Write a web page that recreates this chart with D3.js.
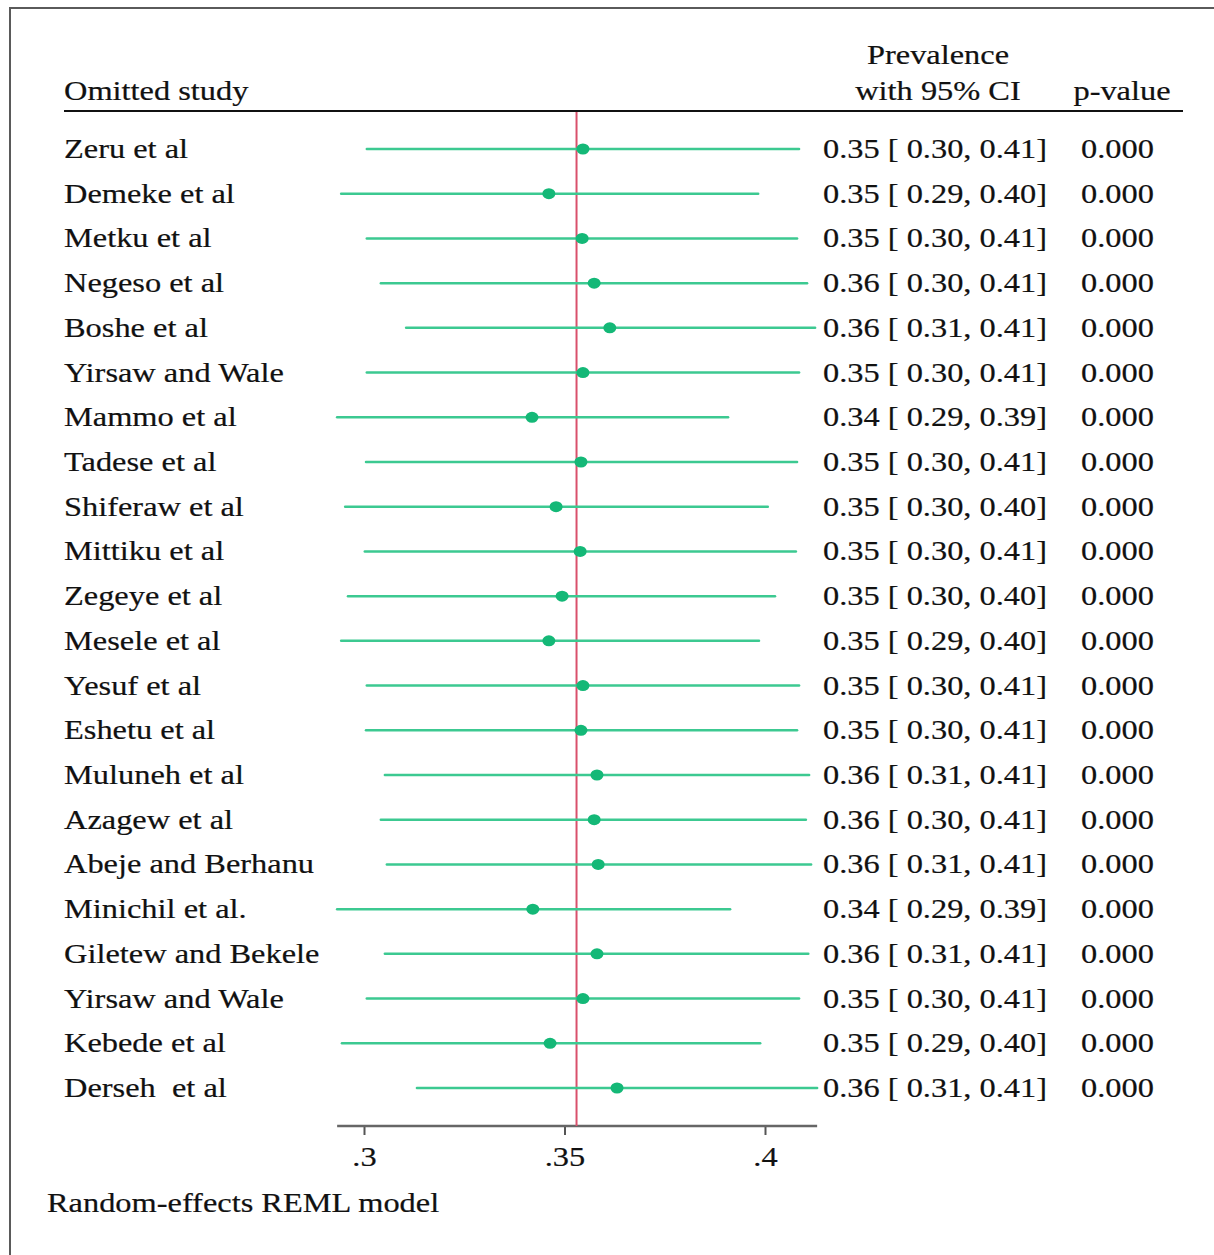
<!DOCTYPE html>
<html>
<head>
<meta charset="utf-8">
<script src="https://cdn.jsdelivr.net/npm/d3@7"></script>
<style>
  body { margin: 0; background: #fff; }
  svg { display: block; }
  text { white-space: pre; }
</style>
</head>
<body>
<svg id="forest"></svg>
<script>
const studies = ["Zeru et al", "Demeke et al", "Metku et al", "Negeso et al", "Boshe et al",
    "Yirsaw and Wale", "Mammo et al", "Tadese et al", "Shiferaw et al", "Mittiku et al",
    "Zegeye et al", "Mesele et al", "Yesuf et al", "Eshetu et al", "Muluneh et al",
    "Azagew et al", "Abeje and Berhanu", "Minichil et al.", "Giletew and Bekele",
    "Yirsaw and Wale", "Kebede et al", "Derseh  et al"]
// point estimate and CI ends as drawn
const estimates = [0.3546, 0.3461, 0.3544, 0.3574, 0.3613, 0.3546, 0.3419, 0.3541, 0.3479, 0.3539,
    0.3494, 0.3461, 0.3546, 0.3541, 0.3581, 0.3574, 0.3584, 0.3421, 0.3581, 0.3546, 0.3464, 0.3631]
const lows = [0.3007, 0.2943, 0.3007, 0.3042, 0.3105, 0.3007, 0.2933, 0.3005, 0.2953, 0.3002,
    0.2960, 0.2943, 0.3007, 0.3005, 0.3052, 0.3042, 0.3057, 0.2933, 0.3052, 0.3007, 0.2945, 0.3132]
const highs = [0.4085, 0.3983, 0.4080, 0.4105, 0.4125, 0.4085, 0.3908, 0.4080, 0.4007, 0.4077,
    0.4025, 0.3985, 0.4085, 0.4080, 0.4110, 0.4102, 0.4115, 0.3913, 0.4108, 0.4085, 0.3988, 0.4130]
// labels printed in the table
const ciLabels = ["0.35 [ 0.30, 0.41]", "0.35 [ 0.29, 0.40]", "0.35 [ 0.30, 0.41]", "0.36 [ 0.30, 0.41]",
    "0.36 [ 0.31, 0.41]", "0.35 [ 0.30, 0.41]", "0.34 [ 0.29, 0.39]", "0.35 [ 0.30, 0.41]",
    "0.35 [ 0.30, 0.40]", "0.35 [ 0.30, 0.41]", "0.35 [ 0.30, 0.40]", "0.35 [ 0.29, 0.40]",
    "0.35 [ 0.30, 0.41]", "0.35 [ 0.30, 0.41]", "0.36 [ 0.31, 0.41]", "0.36 [ 0.30, 0.41]",
    "0.36 [ 0.31, 0.41]", "0.34 [ 0.29, 0.39]", "0.36 [ 0.31, 0.41]", "0.35 [ 0.30, 0.41]",
    "0.35 [ 0.29, 0.40]", "0.36 [ 0.31, 0.41]"]
const pValues = Array(22).fill("0.000")
const overall = 0.353
const tickValues = [0.3, 0.35, 0.4]

const width = 1214, height = 1255
const font = "'Liberation Serif', 'Times New Roman', serif"
const fontSize = 27
const stretch = 1.2   // text in the picture is a bit wide

const svg = d3.select("#forest")
    .attr("width", width)
    .attr("height", height)
    .attr("font-family", font)
    .attr("font-size", fontSize)

const data = studies.map((s, i) => ({study: s, est: estimates[i], lo: lows[i], hi: highs[i],
    ci: ciLabels[i], p: pValues[i], i}))

const x = d3.scaleLinear()
    .domain([0.3, 0.4])
    .range([364, 765])

const y = d3.scalePoint()
    .domain(d3.range(data.length))
    .range([149, 1088])

const label = (g, px, py, txt, anchor = "start") => g.append("text")
    .attr("transform", `translate(${px},${py}) scale(${stretch},1)`)
    .attr("text-anchor", anchor)
    .attr("fill", "#111")
    .attr("stroke", "#111")
    .attr("stroke-width", 0.2)
    .text(txt)

// frame (only top and left edges are inside the picture)
svg.append("rect")
    .attr("x", 10).attr("y", 8)
    .attr("width", 1300).attr("height", 1400)
    .attr("fill", "none")
    .attr("stroke", "#5a5a5a")
    .attr("stroke-width", 2)

// headers
const head = svg.append("g")
label(head, 64, 100, "Omitted study")
label(head, 938, 64, "Prevalence", "middle")
label(head, 938, 100, "with 95% CI", "middle")
label(head, 1122, 100, "p-value", "middle")
head.append("line")
    .attr("x1", 64).attr("x2", 1183)
    .attr("y1", 111).attr("y2", 111)
    .attr("stroke", "#111")
    .attr("stroke-width", 2)

// x axis spanning the CI range
const ext = [d3.min(lows), d3.max(highs)]
const xAxis = g => g
    .attr("transform", "translate(0,1126)")
    .call(d3.axisBottom(x).tickValues(tickValues).tickSize(9).tickSizeOuter(0)
        .tickFormat(d => d3.format(".2~f")(d).replace(/^0/, "")))
    .call(g => g.select(".domain").remove())
    .call(g => g.append("line")
        .attr("x1", x(ext[0])).attr("x2", x(ext[1]))
        .attr("stroke", "#666").attr("stroke-width", 2.5))
    .call(g => g.selectAll(".tick line").attr("stroke", "#555").attr("stroke-width", 2))
    .call(g => g.selectAll(".tick text")
        .attr("font-family", font)
        .attr("font-size", fontSize)
        .attr("fill", "#111")
        .attr("stroke", "#111")
        .attr("stroke-width", 0.2)
        .attr("y", 0).attr("dy", 0)
        .attr("transform", `translate(0,40) scale(${stretch},1)`))

svg.append("g").call(xAxis)

// overall estimate line
svg.append("line")
    .attr("x1", x(overall)).attr("x2", x(overall))
    .attr("y1", 112).attr("y2", 1126)
    .attr("stroke", "#d9506c")
    .attr("stroke-width", 2)

// CIs
svg.append("g")
    .attr("stroke", "#3cc991")
    .attr("stroke-width", 2.5)
    .attr("stroke-linecap", "round")
    .selectAll("line")
    .data(data)
    .join("line")
    .attr("x1", d => x(d.lo))
    .attr("x2", d => x(d.hi))
    .attr("y1", d => y(d.i))
    .attr("y2", d => y(d.i))

svg.append("g")
    .attr("fill", "#14b877")
    .selectAll("ellipse")
    .data(data)
    .join("ellipse")
    .attr("cx", d => x(d.est))
    .attr("cy", d => y(d.i))
    .attr("rx", 6.5)
    .attr("ry", 5.5)

// table text
const rows = svg.append("g")
data.forEach(d => {
    label(rows, 64, y(d.i) + 9, d.study)
    label(rows, 823, y(d.i) + 9, d.ci)
    label(rows, 1081, y(d.i) + 9, d.p)
})

label(svg, 47, 1212, "Random-effects REML model")
</script>
</body>
</html>
